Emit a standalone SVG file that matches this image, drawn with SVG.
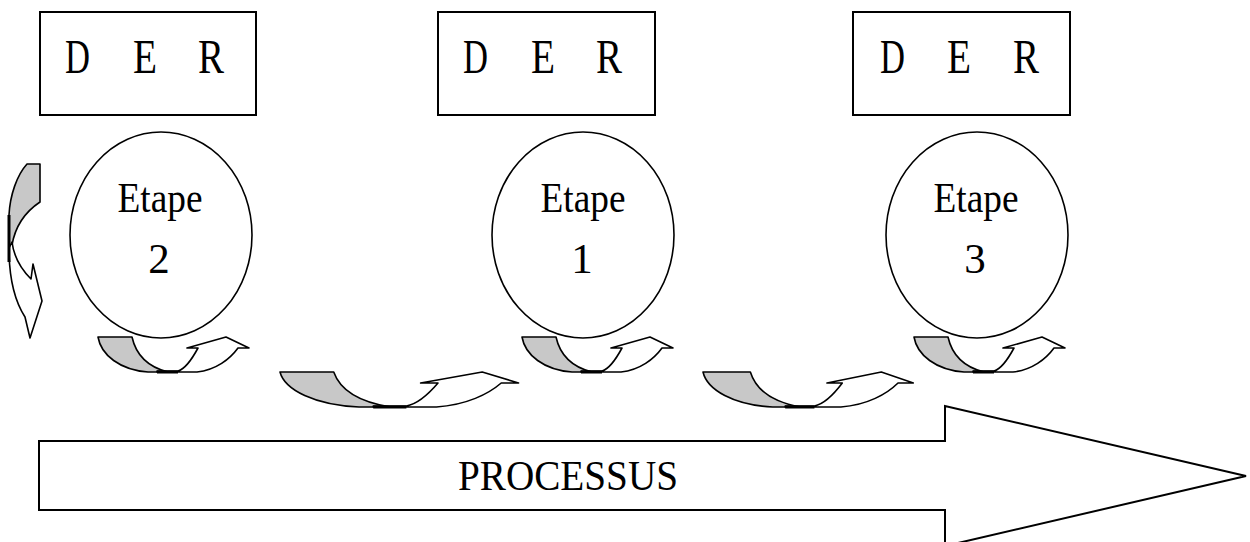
<svg xmlns="http://www.w3.org/2000/svg" xmlns:xlink="http://www.w3.org/1999/xlink" width="1250" height="542" viewBox="0 0 1250 542">
  <style>
    .box { fill: #fff; stroke: #000; stroke-width: 2; }
    .step { fill: #fff; stroke: #000; stroke-width: 1.6; }
    .der { font-family: "Liberation Serif", "Times New Roman", serif; font-size: 48px; fill: #000; }
    .lbl { font-family: "Liberation Serif", "Times New Roman", serif; font-size: 43px; fill: #000; text-anchor: middle; }
    .band { fill: #c8c8c8; stroke: #000; stroke-width: 1.6; stroke-linejoin: round; }
    .front { fill: #fff; stroke: #000; stroke-width: 1.6; stroke-linejoin: round; }
    .seam { stroke: #000; stroke-width: 3; fill: none; }
    .proc { fill: #fff; stroke: #000; stroke-width: 2; stroke-linejoin: miter; }
  </style>
  <defs>
    <!-- curved "U-turn" arrow, 150 x 35 units, grey back band + white front with head -->
    <g id="turn">
      <path class="band" vector-effect="non-scaling-stroke" d="M0,0 L34,0 C38,18 50,30 70,35 L50,35 C22,33 3,18 0,0 Z"/>
      <path class="front" vector-effect="non-scaling-stroke" d="M59,35 L99,35 C118,33 132,22 140,11 L151,11 L128,0 L89,11 L100,11 C93,24 87,32 80,34 L59,34 Z"/>
      <path class="seam" vector-effect="non-scaling-stroke" d="M59,35 L80,35"/>
    </g>
  </defs>

  <!-- big process arrow -->
  <g id="processus">
    <path class="proc" d="M39,441 L945,441 L945,406 L1246,476 L945,546 L945,510 L39,510 Z"/>
    <text class="lbl" x="568" y="490" font-size="42" textLength="220" lengthAdjust="spacingAndGlyphs">PROCESSUS</text>
  </g>

  <!-- step 2 -->
  <g id="der-a">
    <rect class="box" x="40" y="12" width="216" height="103"/>
    <text class="der" x="65" y="73" textLength="25" lengthAdjust="spacingAndGlyphs">D</text>
    <text class="der" x="133" y="73" textLength="24" lengthAdjust="spacingAndGlyphs">E</text>
    <text class="der" x="198" y="73" textLength="26" lengthAdjust="spacingAndGlyphs">R</text>
  </g>
  <g id="etape-2">
    <ellipse class="step" cx="161" cy="235" rx="91" ry="103"/>
    <text class="lbl" x="160" y="212" textLength="85" lengthAdjust="spacingAndGlyphs">Etape</text>
    <text class="lbl" x="159" y="273">2</text>
  </g>

  <!-- step 1 -->
  <g id="der-b">
    <rect class="box" x="438" y="12" width="217" height="103"/>
    <text class="der" x="463" y="73" textLength="25" lengthAdjust="spacingAndGlyphs">D</text>
    <text class="der" x="531" y="73" textLength="24" lengthAdjust="spacingAndGlyphs">E</text>
    <text class="der" x="596" y="73" textLength="26" lengthAdjust="spacingAndGlyphs">R</text>
  </g>
  <g id="etape-1">
    <ellipse class="step" cx="583" cy="235" rx="91" ry="103"/>
    <text class="lbl" x="583" y="212" textLength="85" lengthAdjust="spacingAndGlyphs">Etape</text>
    <text class="lbl" x="582" y="273">1</text>
  </g>

  <!-- step 3 -->
  <g id="der-c">
    <rect class="box" x="853" y="12" width="217" height="103"/>
    <text class="der" x="880" y="73" textLength="25" lengthAdjust="spacingAndGlyphs">D</text>
    <text class="der" x="947" y="73" textLength="24" lengthAdjust="spacingAndGlyphs">E</text>
    <text class="der" x="1013" y="73" textLength="26" lengthAdjust="spacingAndGlyphs">R</text>
  </g>
  <g id="etape-3">
    <ellipse class="step" cx="977" cy="235" rx="91" ry="103"/>
    <text class="lbl" x="976" y="212" textLength="85" lengthAdjust="spacingAndGlyphs">Etape</text>
    <text class="lbl" x="975" y="273">3</text>
  </g>

  <!-- connectors: curved arrows -->
  <g id="connectors">
    <!-- loop arrow left of step 2 -->
    <g id="loop-left">
      <path class="band" d="M27,164 L40,164 L40,202 C28,210 16,222 12,245 L9,245 L9,215 C10,195 17,175 27,164 Z"/>
      <path class="front" d="M9,248 C9,282 16,303 25,317 L30,338 L42,301 L33,264 L31,279 C22,270 14,258 12,242 Z"/>
      <path class="seam" d="M9,215 L9,262"/>
    </g>
    <use xlink:href="#turn" transform="translate(98,337)"/>
    <use xlink:href="#turn" transform="translate(280,372) scale(1.58,1)"/>
    <use xlink:href="#turn" transform="translate(522,337)"/>
    <use xlink:href="#turn" transform="translate(703,372) scale(1.393,1)"/>
    <use xlink:href="#turn" transform="translate(914,337)"/>
  </g>
</svg>
